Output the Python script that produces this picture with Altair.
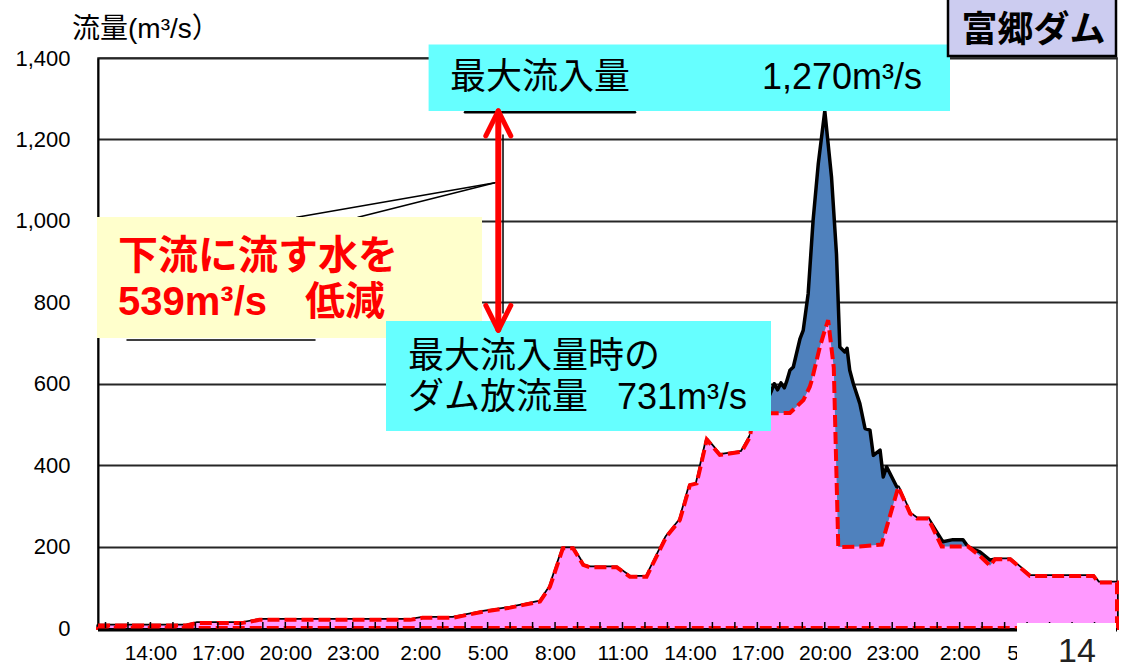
import altair as alt
import pandas as pd

# Discharge at Tomisato Dam (m3/s); time in hours counted from 0:00 of the first day
out_hours = [11.67, 15.6, 16.05, 18.05, 18.85, 25.55, 26.1, 27.45, 28.8, 30.0, 31.33, 31.77,
             32.35, 32.8, 33.25, 33.55, 34.75, 35.33, 36.07, 36.95, 37.55, 38.0, 38.3, 38.75,
             39.33, 40.3, 40.67, 40.82, 42.45, 43.05, 43.33, 43.42, 43.78, 44.0, 44.15, 44.4,
             44.6, 45.55, 46.53, 47.27, 47.8, 48.1, 48.6, 49.2, 50.38, 50.9, 51.35, 51.57,
             52.25, 52.68, 53.13, 55.95, 56.17, 57.0]
outflow = [6, 6, 12, 12, 20, 20, 25, 25, 40, 50, 65, 101,
           196, 196, 155, 149, 149, 126, 126, 224, 265, 351, 355, 463,
           425, 433, 469, 527, 528, 560, 592, 608, 690, 731, 756, 640,
           199, 200, 205, 346, 281, 269, 269, 200, 200, 177, 153, 169,
           169, 149, 128, 128, 112, 112]

in_hours = [11.67, 15.6, 16.05, 18.05, 18.85, 25.55, 26.1, 27.45, 28.8, 30.0, 31.33, 31.77,
            32.35, 32.8, 33.25, 33.55, 34.75, 35.33, 36.07, 36.95, 37.55, 38.0, 38.3, 38.75,
            39.33, 40.3, 40.67, 41.2, 41.61, 41.75, 41.9, 42.05, 42.2, 42.3, 42.45, 42.6,
            42.9, 43.04, 43.26, 43.48, 43.71, 44.0, 44.3, 44.52, 44.67, 44.89, 44.99, 45.11,
            45.27, 45.56, 45.79, 46.01, 46.16, 46.46, 46.6, 46.75, 47.2, 47.27, 47.8, 48.1,
            48.6, 49.25, 49.7, 50.15, 50.38, 50.9, 51.35, 51.57, 52.25, 52.68, 53.13, 55.95,
            56.17, 57.0]
inflow = [6, 6, 12, 12, 20, 20, 25, 25, 40, 50, 65, 101,
          196, 196, 155, 149, 149, 126, 126, 224, 265, 351, 355, 463,
          425, 433, 470, 530, 580, 600, 585, 602, 590, 605, 633, 641,
          711, 731, 821, 1001, 1140, 1270, 1107, 919, 690, 678, 687, 633,
          600, 551, 490, 486, 424, 437, 371, 396, 347, 346, 281, 269,
          269, 212, 217, 217, 199, 187, 167, 169, 169, 149, 128, 128,
          112, 112]

tick_hours = list(range(12, 57))
label_hours = list(range(14, 54, 3))
y_values = [0, 200, 400, 600, 800, 1000, 1200, 1400]

peak_inflow = 1270
release_at_peak = 731

W, H = 1019, 570
JP = "'Liberation Sans', 'Noto Sans CJK JP', sans-serif"
one = pd.DataFrame({"k": [0]})

x_scale = alt.Scale(domain=[11.6667, 57], nice=False, zero=False)
y_scale = alt.Scale(domain=[0, 1400], nice=False)

x_axis = alt.Axis(values=label_hours, labelExpr="(datum.value % 24) + ':00'", title=None,
                  ticks=False, grid=False, domain=False, labelFontSize=21, labelPadding=14,
                  labelFont="'Liberation Sans Narrow', 'Liberation Sans', sans-serif",
                  labelColor="black", labelFlush=False)
y_axis = alt.Axis(values=y_values, labelExpr="format(datum.value, ',.0f')", title=None,
                  ticks=False, grid=True, gridColor="#262626", gridWidth=1.8,
                  domainColor="black", domainWidth=2, labelFontSize=22, labelPadding=28,
                  labelFont="'Liberation Sans', sans-serif", labelColor="black")

in_df = pd.DataFrame({"hour": in_hours, "q": inflow})
out_df = pd.DataFrame({"hour": out_hours, "q": outflow})

inflow_area = alt.Chart(in_df).mark_area(
    fill="#4F81BD", stroke="black", strokeWidth=3.5, strokeJoin="round", fillOpacity=1
).encode(x=alt.X("hour:Q", scale=x_scale, axis=x_axis),
         y=alt.Y("q:Q", scale=y_scale, axis=y_axis))

outflow_area = alt.Chart(out_df).mark_area(
    fill="#FF99FF", stroke="#FF0000", strokeWidth=4, strokeDash=[12, 5], fillOpacity=1
).encode(x=alt.X("hour:Q", scale=x_scale), y=alt.Y("q:Q", scale=y_scale))

hour_ticks = alt.Chart(pd.DataFrame({"hour": tick_hours})).mark_rule(
    color="black", strokeWidth=1.5
).encode(x=alt.X("hour:Q", scale=x_scale), y=alt.value(H), y2=alt.value(H - 6))

base_line = alt.Chart(one).mark_rule(color="black", strokeWidth=3).encode(
    x=alt.value(0), x2=alt.value(W), y=alt.value(H + 2), y2=alt.value(H + 2))


def rule(x1, y1, x2, y2, color="black", width=1.5):
    return alt.Chart(one).mark_rule(color=color, strokeWidth=width, strokeCap="round").encode(
        x=alt.value(x1), x2=alt.value(x2), y=alt.value(y1), y2=alt.value(y2))


def box(x1, y1, x2, y2, fill, stroke=None):
    kw = dict(fill=fill)
    if stroke:
        kw.update(stroke=stroke, strokeWidth=2.5)
    return alt.Chart(one).mark_rect(**kw).encode(
        x=alt.value(x1), x2=alt.value(x2), y=alt.value(y1), y2=alt.value(y2))


def label(text, x, y, size, color="black", bold=False, align="left"):
    return alt.Chart(one).mark_text(
        align=align, baseline="middle", fontSize=size, font=JP, color=color,
        fontWeight="bold" if bold else "normal"
    ).encode(x=alt.value(x), y=alt.value(y), text=alt.value(text))


# callout leader lines and frames
leaders = [rule(397, 124.7, 198.7, 159.3), rule(397, 124.7, 260, 159.3)]
frames = [
    box(-1, 159, 384, 280, "#FFFFCC"),
    box(330.6, -13.5, 852, 53, "#66FFFF"),
    box(288, 263, 673, 373, "#66FFFF"),
    box(850, -63, 1018, -2, "#CCCCF0", stroke="black"),
]
extra_lines = [rule(29, 282, 217, 282, width=1.5), rule(367, 54.3, 537, 54.3, width=2.5),
               rule(405, 77, 405, 255, width=1.5)]

# double arrow spanning the reduction between peak inflow and release
AX = 400.3
head = 61.4
arrow_shaft = alt.Chart(one).mark_rule(color="#FF0000", strokeWidth=6).encode(
    x=alt.value(AX), y=alt.datum(peak_inflow), y2=alt.datum(release_at_peak))
arrow_heads = [
    alt.Chart(one).mark_rule(color="#FF0000", strokeWidth=5, strokeCap="round").encode(
        x=alt.value(AX), x2=alt.value(AX + dx), y=alt.datum(tip), y2=alt.datum(tip + dv))
    for tip, dv in [(peak_inflow, -head), (release_at_peak, head)]
    for dx in (-12.5, 12.5)
]

texts = [
    label("流量(m³/s）", -26, -28, 28),
    label("最大流入量", 352, 20, 36),
    label("1,270m³/s", 664, 20, 36),
    label("下流に流す水を", 20, 199, 40, color="#FF0000", bold=True),
    label("539m³/s", 20, 245, 40, color="#FF0000", bold=True),
    label("低減", 207, 245, 40, color="#FF0000", bold=True),
    label("最大流入量時の", 310, 299, 36),
    label("ダム放流量", 310, 340, 36),
    label("731m³/s", 519, 340, 36),
    label("富郷ダム", 935.5, -27, 36, bold=True, align="center"),
]

page_cover = [box(919, 565, 1018, 611, "white"), label("14", 960, 594, 34, color="#222222")]

chart = alt.layer(
    inflow_area, outflow_area, hour_ticks, base_line,
    *leaders, *frames, *extra_lines, arrow_shaft, *arrow_heads, *texts, *page_cover
).properties(
    width=W, height=H,
    autosize=alt.AutoSizeParams(type="none"),
    padding={"left": 98, "top": 58, "right": 4, "bottom": 41},
).configure_view(stroke="#222222", strokeWidth=1.5)

chart.save("out.html", embed_options={"renderer": "svg", "actions": False})
